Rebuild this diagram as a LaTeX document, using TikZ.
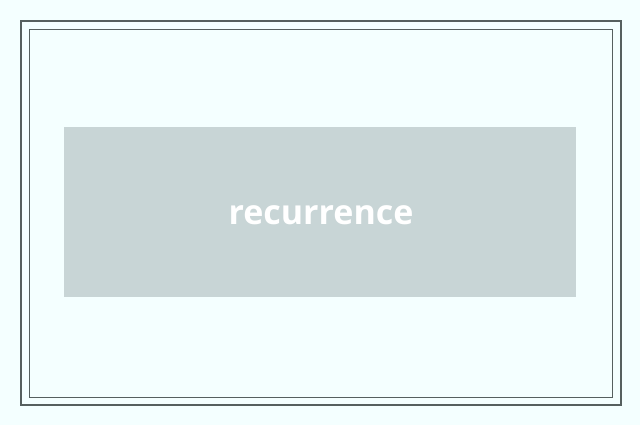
\documentclass[tikz,border=0pt]{standalone}
\usepackage{fontspec}
\setmainfont{Open Sans}
\definecolor{bg}{HTML}{F4FFFF}
\definecolor{frame}{HTML}{56605F}
\definecolor{boxc}{HTML}{C8D5D6}
\begin{document}
\begin{tikzpicture}[x=1pt,y=-1pt]
\fill[bg] (0,0) rectangle (640,425);
\useasboundingbox (0,0) rectangle (640,425);
\draw[frame,line width=1.5pt] (21,21) rectangle (621,405);
\draw[frame,line width=0.7pt] (29,29) rectangle (612,397);
\node[fill=boxc,minimum width=512pt,minimum height=170pt,inner sep=0pt] (box) at (320,212) {};
\node[text=white,font=\fontsize{34}{40}\selectfont\bfseries,anchor=base] (lbl) at (321,224) {recurrence};
\end{tikzpicture}
\end{document}
